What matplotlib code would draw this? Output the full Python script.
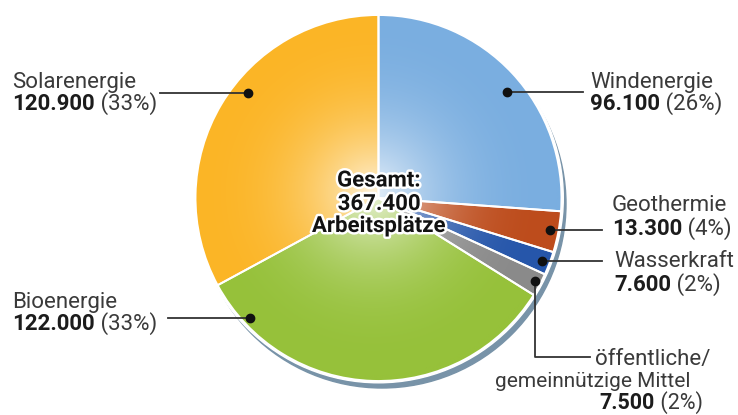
import numpy as np
import matplotlib
matplotlib.use('Agg')
import matplotlib.pyplot as plt
import matplotlib.patheffects as pe
from matplotlib.patches import Circle
from matplotlib.colors import to_rgb

# Arbeitsplätze in erneuerbaren Energien
sectors = ['Windenergie', 'Geothermie', 'Wasserkraft',
           'öffentliche/\ngemeinnützige Mittel', 'Bioenergie', 'Solarenergie']
jobs = [96100, 13300, 7600, 7500, 122000, 120900]
shares = [26, 4, 2, 2, 33, 33]
total_label = 'Gesamt:\n367.400\nArbeitsplätze'
colors = ['#7aaee0', '#bd4c1c', '#2656aa', '#8a8a8a', '#96c13a', '#fbb526']

W, H = 738, 415


def Y(y):
    # image row -> data y
    return H - y


def fmt(v):
    return f'{v:,}'.replace(',', '.')


fig = plt.figure(figsize=(W / 100, H / 100), dpi=100)
ax = fig.add_axes([0, 0, 1, 1])

cx, cy, R = 378.5, Y(198), 183

# shadow + white rim
ax.add_patch(Circle((cx + 3.5, cy - 6), R + 1, color='#7893a8', zorder=0))
ax.add_patch(Circle((cx, cy), R + 1.8, color='white', zorder=0.5))

wedges, _ = ax.pie(jobs, colors=colors, startangle=90, counterclock=False,
                   center=(cx, cy), radius=R,
                   wedgeprops=dict(edgecolor='white', linewidth=1.4))

# radial gradient inside each wedge
n = 400
xs = np.linspace(cx - R, cx + R, n)
ys = np.linspace(cy - R, cy + R, n)
gx, gy = np.meshgrid(xs, ys)
t = np.clip(np.hypot(gx - cx + 6, gy - cy - 6) / R, 0, 1)
f = 1 - (1 - t) ** 2.5
for w, c in zip(wedges, colors):
    base = np.array(to_rgb(c))
    light = 0.82 + 0.18 * base
    img = light[None, None, :] * (1 - f[..., None]) + base[None, None, :] * f[..., None]
    im = ax.imshow(img, extent=(cx - R, cx + R, cy - R, cy + R), origin='lower',
                   interpolation='bilinear', zorder=1)
    im.set_clip_path(w)
    w.set_facecolor('none')
    w.set_zorder(2)

name_c = '#3a3a3a'
num_c = '#1c1c1c'
fs = 16
font = 'Roboto'


def label(name, value, share, x, y_name, y_num, ha='left'):
    ax.text(x, Y(y_name), name, fontsize=fs, color=name_c, family=font,
            ha=ha, va='baseline')
    tb = ax.text(x, Y(y_num), fmt(value), fontsize=fs, color=num_c,
                 family=font, fontweight='bold', ha='left', va='baseline')
    ax.annotate(f' ({share}%)', xy=(1, 0), xycoords=tb, fontsize=fs,
                color=name_c, family=font, ha='left', va='bottom')


def leader(points):
    pts = np.array(points, dtype=float)
    ax.plot(pts[:, 0], H - pts[:, 1], color='#333333', lw=1.3, zorder=3)
    ax.plot(pts[0, 0], H - pts[0, 1], 'o', color='#111111', ms=6, zorder=4)


# Windenergie
leader([(507, 92), (583, 92)])
label(sectors[0], jobs[0], shares[0], 590, 88, 110)
# Geothermie
leader([(550, 230), (602, 230)])
label(sectors[1], jobs[1], shares[1], 612, 211, 235)
# Wasserkraft
leader([(542, 261), (602, 261)])
label(sectors[2], jobs[2], shares[2], 614, 267, 291)
# öffentliche / gemeinnützige Mittel
leader([(535, 281), (535, 357), (590, 357)])
top, bottom = sectors[3].split('\n')
ax.text(595, Y(365), top, fontsize=fs, color=name_c, family=font, va='baseline')
ax.text(495, Y(387), bottom, fontsize=15, color=name_c, family=font, va='baseline')
tp = ax.text(703, Y(408.5), f' ({shares[3]}%)', fontsize=15.5, color=name_c,
             family=font, ha='right', va='baseline')
ax.annotate(fmt(jobs[3]), xy=(0, 0), xycoords=tp, fontsize=15.5, color=num_c,
            family=font, fontweight='bold', ha='right', va='bottom')
# Bioenergie
leader([(250, 318), (168, 318)])
label(sectors[4], jobs[4], shares[4], 12, 308, 330)
# Solarenergie
leader([(248, 93), (160, 93)])
label(sectors[5], jobs[5], shares[5], 12, 88, 110)

# centre text
stroke = [pe.withStroke(linewidth=3.5, foreground='white')]
for line, yb in zip(total_label.split('\n'), [186.5, 210, 232]):
    ax.text(379, Y(yb), line, fontsize=fs, color='#111111', family=font,
            fontweight='bold', ha='center', va='baseline',
            path_effects=stroke, zorder=5)

ax.set_xlim(0, W)
ax.set_ylim(0, H)
ax.axis('off')

fig.savefig('out.png', dpi=100)
